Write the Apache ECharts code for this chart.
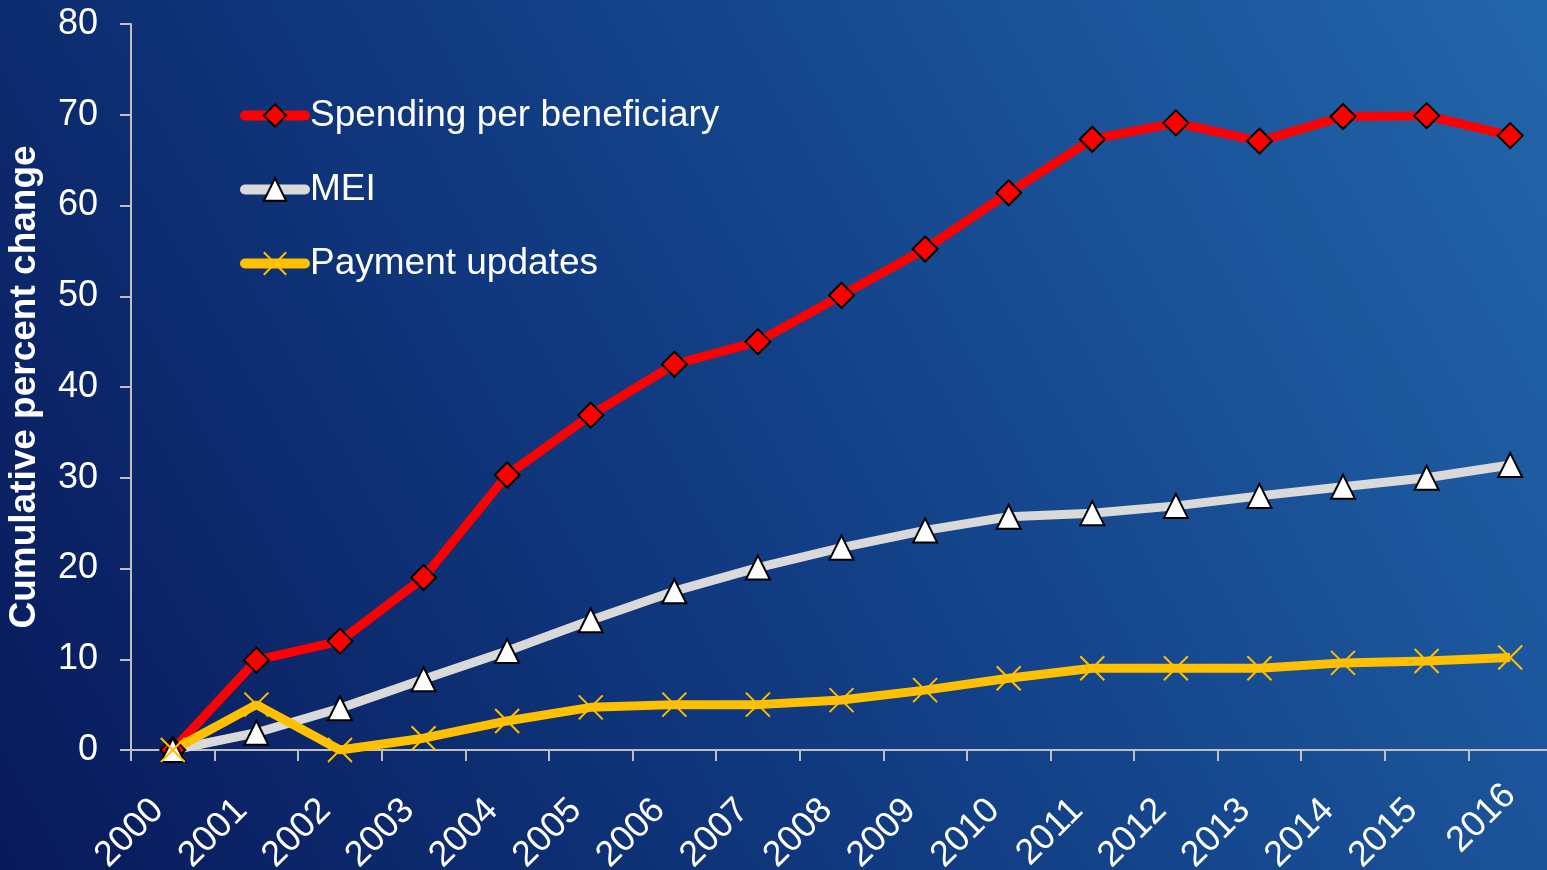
<!DOCTYPE html>
<html>
<head>
<meta charset="utf-8">
<script src="https://cdn.jsdelivr.net/npm/echarts@6/dist/echarts.min.js"></script>
<style>
    html, body {margin: 0; padding: 0; overflow: hidden;}
    #chart {width: 1552px; height: 870px;}
</style>
</head>
<body>
<div id="chart"></div>
<script>
/**
 * 图表数据
 */
var years = ['2000', '2001', '2002', '2003', '2004', '2005', '2006', '2007', '2008',
    '2009', '2010', '2011', '2012', '2013', '2014', '2015', '2016'];
var spendingData = [0, 9.9, 12.0, 19.0, 30.3, 36.9, 42.5, 45.0, 50.1, 55.2, 61.4, 67.3, 69.1, 67.1, 69.8, 69.9, 67.7];
var meiData = [0, 1.9, 4.6, 7.8, 10.9, 14.3, 17.5, 20.1, 22.3, 24.2, 25.7, 26.1, 26.9, 28.0, 29.0, 30.0, 31.4];
var updateData = [0, 5.0, 0, 1.3, 3.2, 4.7, 5.0, 5.0, 5.5, 6.6, 7.9, 9.0, 9.0, 9.0, 9.6, 9.8, 10.2];
var seriesNames = ['Spending per beneficiary', 'MEI', 'Payment updates'];

var fontName = 'Liberation Sans, Arial, sans-serif';
var axisColor = '#BFBFBF';

renderChart();

/**
 * 渲染折线图
 */
function renderChart() {
    var chart = echarts.init(document.getElementById('chart'));// 初始化
    var option = {
        animation: false,
        backgroundColor: new echarts.graphic.LinearGradient(0, 1, 1, 0, [
            {offset: 0, color: '#08195a'},
            {offset: 0.5, color: '#123f86'},
            {offset: 1, color: '#2366ab'}
        ]),
        textStyle: {fontFamily: fontName},
        grid: {left: 131, top: 24, right: 0, bottom: 120, containLabel: false, outerBoundsMode: 'none'},
        legend: {
            orient: 'vertical',
            left: 235,
            top: 92,
            itemWidth: 60,
            itemHeight: 28,
            itemGap: 37,
            data: seriesNames,
            textStyle: {color: '#ffffff', fontSize: 37, fontFamily: fontName},
            lineStyle: {width: 10, cap: 'round'}
        },
        xAxis: {
            type: 'category',
            data: years,
            boundaryGap: true,
            axisLine: {lineStyle: {color: axisColor, width: 2}},
            axisTick: {show: true, length: 11, lineStyle: {color: axisColor, width: 2}},
            axisLabel: {
                color: '#ffffff',
                fontSize: 36,
                rotate: 45,
                margin: 40,
                interval: 0,
                // 最后一个年份标签位置与其他不同
                formatter: function (value, index) {
                    return index === years.length - 1 ? '{last|' + value + '}' : '{yr|' + value + '}';
                },
                rich: {
                    yr: {color: '#ffffff', fontSize: 36, padding: [0, 21, 0, 0]},
                    last: {color: '#ffffff', fontSize: 36, padding: [0, 0, 0, 0]}
                }
            }
        },
        yAxis: {
            type: 'value',
            min: 0,
            max: 80,
            interval: 10,
            name: 'Cumulative percent change',
            nameLocation: 'middle',
            nameGap: 88,
            nameTextStyle: {color: '#ffffff', fontSize: 37, fontWeight: 'bold'},
            splitLine: {show: false},
            axisLine: {show: true, lineStyle: {color: axisColor, width: 2}},
            axisTick: {show: true, length: 11, lineStyle: {color: axisColor, width: 2}},
            axisLabel: {color: '#ffffff', fontSize: 36, margin: 33}
        },
        series: [
            {
                name: seriesNames[0],
                type: 'line',
                data: spendingData,
                symbol: 'diamond',
                symbolSize: 25,
                lineStyle: {color: '#ff0000', width: 9},
                itemStyle: {color: '#ff0000', borderColor: '#000000', borderWidth: 2}
            },
            {
                name: seriesNames[1],
                type: 'line',
                data: meiData,
                symbol: 'triangle',
                symbolSize: 24,
                lineStyle: {color: '#d9d9d9', width: 9},
                itemStyle: {color: '#ffffff', borderColor: '#000000', borderWidth: 2}
            },
            {
                name: seriesNames[2],
                type: 'line',
                data: updateData,
                symbol: 'path://M0,0L10,10M10,0L0,10',
                symbolSize: 24,
                lineStyle: {color: '#ffc000', width: 9},
                itemStyle: {color: 'rgba(0,0,0,0)', borderColor: '#ffc000', borderWidth: 2}
            }
        ]
    };
    chart.setOption(option);
}
</script>
</body>
</html>
